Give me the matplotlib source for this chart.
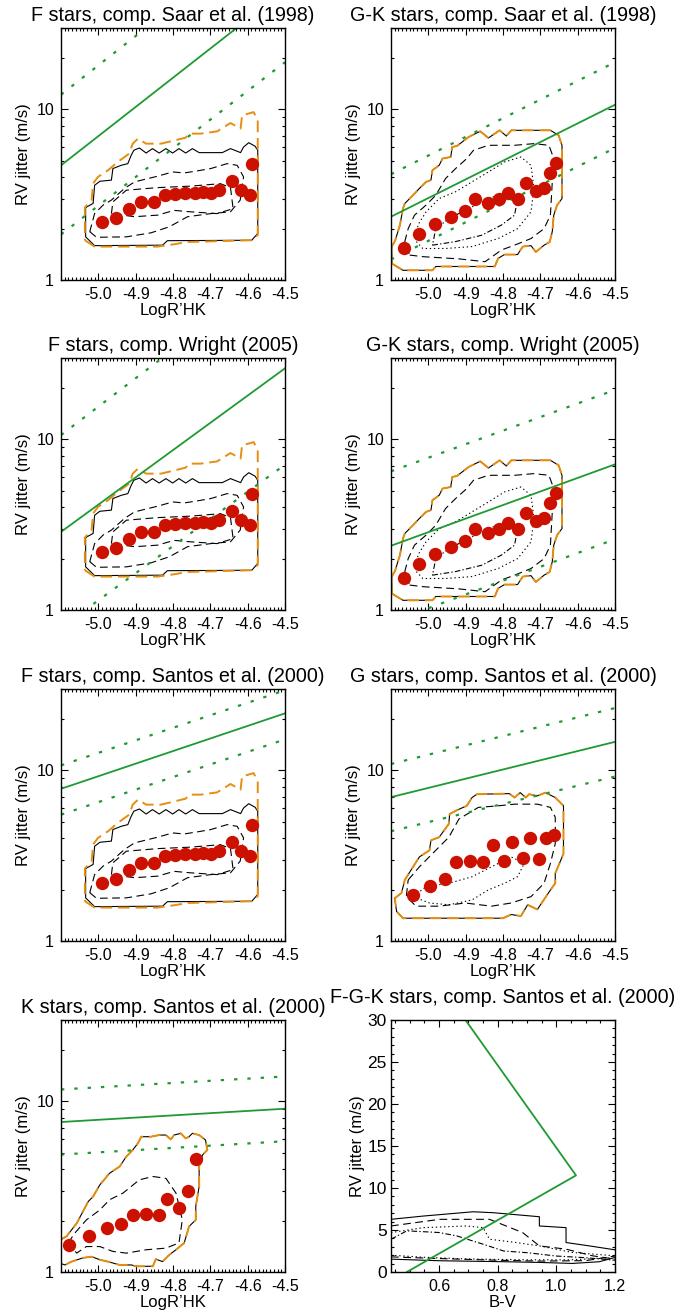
import matplotlib
matplotlib.use('Agg')
import matplotlib.pyplot as plt
from matplotlib.ticker import MultipleLocator, FixedLocator, NullFormatter

plt.rcParams['font.family'] = ['Liberation Sans', 'DejaVu Sans']
plt.rcParams['axes.unicode_minus'] = False

# ==========================================================
# DATA
# ==========================================================

titles = [
    'F stars, comp. Saar et al. (1998)',
    'G-K stars, comp. Saar et al. (1998)',
    'F stars, comp. Wright (2005)',
    'G-K stars, comp. Wright (2005)',
    'F stars, comp. Santos et al. (2000)',
    'G stars, comp. Santos et al. (2000)',
    'K stars, comp. Santos et al. (2000)',
    'F-G-K stars, comp. Santos et al. (2000)',
]

# binned jitter (red dots)
f_rhk = [-4.990, -4.952, -4.917, -4.885, -4.852, -4.822, -4.795, -4.768,
         -4.742, -4.720, -4.698, -4.677, -4.642, -4.617, -4.593, -4.588]
f_jit = [2.19, 2.32, 2.60, 2.87, 2.85, 3.14, 3.18, 3.24,
         3.24, 3.28, 3.24, 3.36, 3.79, 3.39, 3.17, 4.81]

gk_rhk = [-5.065, -5.026, -4.982, -4.940, -4.903, -4.875, -4.841, -4.811,
          -4.787, -4.759, -4.739, -4.712, -4.690, -4.675, -4.658]
gk_jit = [1.55, 1.85, 2.13, 2.35, 2.53, 2.98, 2.83, 2.98,
          3.24, 2.98, 3.71, 3.32, 3.48, 4.26, 4.88]

g_rhk = [-5.041, -4.996, -4.955, -4.925, -4.889, -4.854, -4.828,
         -4.797, -4.775, -4.746, -4.728, -4.703, -4.686, -4.664]
g_jit = [1.85, 2.10, 2.31, 2.91, 2.95, 2.89, 3.67,
         2.94, 3.80, 3.07, 4.03, 3.02, 4.03, 4.20]

k_rhk = [-5.079, -5.025, -4.978, -4.939, -4.908, -4.872,
         -4.837, -4.815, -4.784, -4.761, -4.739]
k_jit = [1.43, 1.63, 1.80, 1.90, 2.16, 2.20,
         2.16, 2.68, 2.36, 2.99, 4.60]

# comparison relations (green), values at logR'HK = -5.1 and -4.5
rel_x = [-5.1, -4.5]
saar_f_mid = [4.7, 50.0]
saar_f_hi = [12.2, 131.0]
saar_f_lo = [1.85, 18.9]
saar_gk_mid = [2.35, 10.65]
saar_gk_hi = [4.17, 18.9]
saar_gk_lo = [1.32, 5.94]
wright_f_mid = [2.87, 26.1]
wright_f_hi = [10.6, 106.0]
wright_f_lo = [0.79, 7.11]
wright_gk_mid = [2.38, 7.14]
wright_gk_hi = [6.5, 19.5]
wright_gk_lo = [0.85, 2.6]
santos_f_mid = [7.8, 21.6]
santos_f_hi = [10.7, 29.5]
santos_f_lo = [5.5, 15.2]
santos_g_mid = [6.97, 14.7]
santos_g_hi = [10.9, 23.2]
santos_g_lo = [4.4, 9.2]
santos_k_mid = [7.57, 9.06]
santos_k_hi = [11.75, 14.0]
santos_k_lo = [4.88, 5.84]

bv_rel_x = [0.49, 1.067, 0.69]
bv_rel_y = [0.0, 11.5, 30.0]

# density contours, (logR'HK, jitter) vertices
f_outer = [(-5.034, 2.66), (-5.014, 2.81), (-5.010, 3.59), (-4.996, 3.79), (-4.965, 3.85),
           (-4.961, 4.50), (-4.939, 4.70), (-4.921, 4.81), (-4.912, 5.38), (-4.905, 5.76),
           (-4.890, 5.94), (-4.872, 5.55), (-4.855, 5.89), (-4.837, 5.55), (-4.819, 5.89),
           (-4.801, 5.55), (-4.784, 5.89), (-4.766, 5.55), (-4.748, 5.89), (-4.730, 5.58),
           (-4.668, 5.58), (-4.646, 5.89), (-4.619, 5.58), (-4.611, 6.02), (-4.597, 6.38),
           (-4.580, 6.08), (-4.573, 5.76), (-4.573, 1.875), (-4.589, 1.71), (-4.815, 1.70),
           (-4.828, 1.60), (-5.010, 1.59), (-5.034, 1.79), (-5.034, 2.66)]
f_orange = [(-5.036, 1.71), (-5.010, 1.57), (-4.841, 1.57), (-4.797, 1.62), (-4.761, 1.67),
            (-4.589, 1.71), (-4.573, 1.83), (-4.573, 8.62), (-4.584, 9.64), (-4.615, 9.22),
            (-4.619, 7.71), (-4.646, 8.32), (-4.682, 7.43), (-4.726, 7.21), (-4.757, 7.21),
            (-4.766, 6.83), (-4.806, 6.50), (-4.832, 6.30), (-4.872, 6.30), (-4.894, 6.73),
            (-4.908, 6.30), (-4.917, 5.51), (-4.948, 4.92), (-4.974, 4.40), (-5.001, 4.02),
            (-5.014, 3.68), (-5.018, 2.94), (-5.036, 2.66), (-5.036, 1.71)]
f_mid = [(-5.023, 1.92), (-5.005, 1.78), (-4.925, 1.79), (-4.859, 1.89), (-4.810, 2.05),
         (-4.761, 2.35), (-4.699, 2.45), (-4.646, 2.51), (-4.620, 2.94), (-4.611, 4.02),
         (-4.628, 4.70), (-4.655, 4.81), (-4.699, 4.50), (-4.735, 4.36), (-4.770, 4.24),
         (-4.801, 4.30), (-4.841, 4.06), (-4.903, 3.76), (-4.930, 3.44), (-4.965, 2.94),
         (-4.987, 2.75), (-5.010, 2.45), (-5.023, 1.92)]
f_inner = [(-4.965, 2.45), (-4.961, 2.87), (-4.925, 3.36), (-4.841, 3.48), (-4.753, 3.55),
           (-4.673, 3.67), (-4.646, 3.48), (-4.639, 2.62), (-4.682, 2.45), (-4.753, 2.51),
           (-4.797, 2.56), (-4.841, 2.40), (-4.903, 2.35), (-4.965, 2.45)]

gk_outer = [(-5.098, 1.25), (-5.068, 1.14), (-4.989, 1.14), (-4.980, 1.20), (-4.822, 1.20),
            (-4.813, 1.34), (-4.796, 1.41), (-4.761, 1.41), (-4.747, 1.57), (-4.725, 1.59),
            (-4.712, 1.46), (-4.690, 1.60), (-4.675, 1.67), (-4.668, 1.92), (-4.664, 2.40),
            (-4.655, 2.75), (-4.642, 3.00), (-4.642, 6.16), (-4.651, 7.05), (-4.673, 7.54),
            (-4.778, 7.54), (-4.791, 6.98), (-4.809, 7.54), (-4.839, 6.80), (-4.861, 7.44),
            (-4.883, 7.05), (-4.892, 6.89), (-4.923, 6.11), (-4.936, 6.02), (-4.940, 5.26),
            (-4.962, 5.15), (-4.971, 4.70), (-4.989, 4.40), (-4.993, 3.85), (-5.006, 3.76),
            (-5.024, 3.44), (-5.041, 3.14), (-5.063, 2.81), (-5.068, 2.62), (-5.076, 2.10),
            (-5.089, 1.70), (-5.098, 1.57), (-5.098, 1.25)]
gk_c2 = [(-5.050, 1.40), (-5.015, 1.37), (-4.918, 1.33), (-4.848, 1.28), (-4.804, 1.50),
         (-4.769, 1.60), (-4.725, 1.75), (-4.690, 2.00), (-4.673, 2.40), (-4.668, 3.76),
         (-4.664, 5.15), (-4.677, 6.16), (-4.717, 6.30), (-4.769, 6.16), (-4.839, 6.16),
         (-4.879, 5.76), (-4.897, 5.15), (-4.927, 4.50), (-4.954, 3.93), (-4.980, 3.14),
         (-5.006, 2.75), (-5.037, 2.40), (-5.054, 2.00), (-5.063, 1.68), (-5.050, 1.40)]
gk_c3 = [(-5.032, 1.68), (-5.015, 1.53), (-4.954, 1.53), (-4.883, 1.57), (-4.813, 1.75),
         (-4.761, 2.00), (-4.725, 2.51), (-4.717, 3.44), (-4.725, 4.70), (-4.752, 5.26),
         (-4.796, 4.92), (-4.839, 4.30), (-4.883, 3.76), (-4.927, 3.29), (-4.971, 3.00),
         (-5.006, 2.51), (-5.028, 2.10), (-5.032, 1.68)]
gk_c4 = [(-4.989, 1.60), (-4.927, 1.68), (-4.857, 1.83), (-4.804, 2.10), (-4.769, 2.40),
         (-4.761, 3.00), (-4.787, 3.29), (-4.839, 3.00), (-4.892, 2.62), (-4.945, 2.29),
         (-4.980, 2.00), (-4.989, 1.60)]

g_outer = [(-5.090, 1.78), (-5.072, 1.91), (-5.063, 2.28), (-5.041, 2.72), (-5.024, 3.11),
           (-4.997, 3.40), (-4.993, 3.89), (-4.971, 4.06), (-4.945, 4.86), (-4.943, 5.55),
           (-4.923, 5.85), (-4.897, 6.20), (-4.883, 6.93), (-4.870, 7.25), (-4.783, 7.31),
           (-4.769, 6.93), (-4.754, 7.41), (-4.739, 6.93), (-4.730, 7.25), (-4.708, 7.09),
           (-4.686, 7.41), (-4.660, 6.93), (-4.638, 6.20), (-4.638, 3.25), (-4.660, 2.49),
           (-4.660, 2.18), (-4.673, 1.99), (-4.708, 1.53), (-4.734, 1.63), (-4.752, 1.40),
           (-4.778, 1.43), (-4.800, 1.36), (-5.068, 1.36), (-5.085, 1.49), (-5.090, 1.78)]
g_c2 = [(-5.054, 2.28), (-5.024, 2.72), (-4.989, 3.25), (-4.945, 4.06), (-4.918, 5.19),
        (-4.866, 6.07), (-4.813, 6.20), (-4.769, 6.34), (-4.708, 6.34), (-4.673, 6.07),
        (-4.660, 5.31), (-4.660, 3.72), (-4.673, 2.85), (-4.690, 2.18), (-4.725, 1.82),
        (-4.778, 1.67), (-4.831, 1.60), (-4.901, 1.67), (-4.971, 1.60), (-5.033, 1.60),
        (-5.059, 1.82), (-5.054, 2.28)]
g_c3 = [(-5.041, 1.82), (-4.997, 1.67), (-4.945, 1.63), (-4.883, 1.74), (-4.840, 1.99),
        (-4.796, 2.18), (-4.761, 2.38), (-4.743, 2.85), (-4.778, 3.11), (-4.831, 2.72),
        (-4.883, 2.38), (-4.945, 2.18), (-5.006, 2.08), (-5.041, 1.82)]

k_outer = [(-5.100, 1.55), (-5.085, 1.62), (-5.058, 1.93), (-5.027, 2.59), (-5.014, 2.77),
           (-4.996, 3.24), (-4.970, 3.79), (-4.943, 4.15), (-4.925, 4.75), (-4.908, 5.19),
           (-4.894, 5.68), (-4.885, 6.21), (-4.859, 6.21), (-4.837, 6.35), (-4.819, 6.35),
           (-4.806, 5.99), (-4.797, 6.35), (-4.779, 6.50), (-4.766, 6.07), (-4.757, 6.21),
           (-4.748, 6.50), (-4.730, 6.35), (-4.713, 5.94), (-4.708, 5.19), (-4.721, 4.85),
           (-4.730, 4.15), (-4.730, 3.17), (-4.739, 2.42), (-4.739, 2.02), (-4.757, 1.85),
           (-4.770, 1.48), (-4.792, 1.35), (-4.810, 1.26), (-4.828, 1.15), (-4.846, 1.19),
           (-4.854, 1.08), (-4.899, 1.08), (-4.912, 1.10), (-4.943, 1.10), (-4.974, 1.15),
           (-4.996, 1.18), (-5.018, 1.23), (-5.041, 1.21), (-5.072, 1.15), (-5.089, 1.10),
           (-5.100, 1.12)]
k_c2 = [(-5.081, 1.48), (-5.063, 1.69), (-5.032, 2.02), (-4.996, 2.31), (-4.970, 2.65),
        (-4.934, 2.90), (-4.890, 3.47), (-4.854, 3.63), (-4.819, 3.54), (-4.792, 2.90),
        (-4.775, 2.02), (-4.784, 1.48), (-4.819, 1.38), (-4.872, 1.35), (-4.925, 1.29),
        (-4.961, 1.32), (-4.996, 1.41), (-5.032, 1.41), (-5.058, 1.29), (-5.081, 1.48)]

# F-G-K stars vs B-V, (B-V, jitter) vertices
bv_solid_top = [(0.436, 6.27), (0.546, 6.66), (0.716, 7.17), (0.784, 7.06), (0.942, 6.58),
                (0.942, 5.48), (1.033, 5.28), (1.033, 3.51), (1.112, 3.11), (1.200, 2.64)]
bv_solid_bot = [(0.436, 1.53), (0.602, 1.34), (0.829, 1.22), (0.942, 1.14), (1.055, 1.02),
                (1.146, 1.22), (1.200, 1.73)]
bv_dash_top = [(0.436, 5.48), (0.602, 6.27), (0.772, 6.27), (0.885, 4.69), (0.942, 3.11),
               (1.033, 2.72), (1.123, 1.93), (1.200, 1.53)]
bv_dot_top = [(0.436, 4.69), (0.546, 5.28), (0.693, 5.48), (0.750, 5.28), (0.772, 3.90),
              (0.863, 3.51), (0.942, 3.11), (1.055, 2.32), (1.200, 1.93)]
bv_dashdot_top = [(0.436, 3.90), (0.490, 4.90), (0.600, 4.70), (0.660, 4.30), (0.760, 3.20),
                  (0.820, 2.50), (0.900, 2.30), (1.000, 1.90), (1.100, 1.70), (1.200, 1.40)]
bv_dash_bot = [(0.436, 1.80), (0.602, 1.60), (0.800, 1.40), (0.942, 1.30), (1.100, 1.35),
               (1.200, 1.90)]
bv_dot_bot = [(0.436, 2.00), (0.550, 1.75), (0.700, 1.55), (0.900, 1.45), (1.050, 1.45),
              (1.180, 1.70)]

# ==========================================================
# STYLES
# ==========================================================

GREEN = '#1f9a33'
ORANGE = '#e58e10'
RED = '#cc1100'
LS_DASH = (0, (7, 4))
LS_DOT = (0, (1.2, 2.5))
LS_DASHDOT = (0, (5, 2, 1.2, 2))
LS_ORANGE = (0, (6, 3))
LS_GREEN_DOT = (0, (1.5, 4.5))

COL_LEFT = [61 / 699, 391 / 699]
ROW_BOTTOM = [1 - 280 / 1313, 1 - 610 / 1313, 1 - 941 / 1313, 1 - 1272 / 1313]
AX_W = 224 / 699
AX_H = 252 / 1313


def unzip(pts):
    return [p[0] for p in pts], [p[1] for p in pts]


def style_axes(ax):
    ax.tick_params(which='both', direction='in', top=True, right=True,
                   labelsize=11.5, width=0.8, pad=5)
    ax.tick_params(which='major', length=5)
    ax.tick_params(which='minor', length=2.5)
    for s in ax.spines.values():
        s.set_linewidth(1.0)


def rhk_panel(ax, title, contours, orange, rel_mid, rel_hi, rel_lo, px, py):
    for pts, ls in contours:
        cx, cy = unzip(pts)
        ax.plot(cx, cy, color='black', lw=0.8, linestyle=ls)
    ox, oy = unzip(orange)
    ax.plot(ox, oy, color=ORANGE, lw=1.4, linestyle=LS_ORANGE)
    ax.plot(rel_x, rel_mid, color=GREEN, lw=1.3)
    ax.plot(rel_x, rel_hi, color=GREEN, lw=1.6, linestyle=LS_GREEN_DOT)
    ax.plot(rel_x, rel_lo, color=GREEN, lw=1.6, linestyle=LS_GREEN_DOT)
    ax.plot(px, py, 'o', color=RED, markersize=9.6, markeredgewidth=0)
    ax.set_yscale('log')
    ax.set_xlim(-5.1, -4.5)
    ax.set_ylim(1, 30)
    ax.xaxis.set_major_locator(FixedLocator([-5.0, -4.9, -4.8, -4.7, -4.6, -4.5]))
    ax.set_xticklabels(['-5.0', '-4.9', '-4.8', '-4.7', '-4.6', '-4.5'])
    ax.xaxis.set_minor_locator(MultipleLocator(0.01))
    ax.yaxis.set_major_locator(FixedLocator([1, 10]))
    ax.set_yticklabels(['1', '10'])
    ax.yaxis.set_minor_locator(FixedLocator([2, 3, 4, 5, 6, 7, 8, 9, 20, 30]))
    ax.yaxis.set_minor_formatter(NullFormatter())
    ax.set_xlabel("LogR\u2019HK", fontsize=12, labelpad=1)
    ax.set_ylabel('RV jitter (m/s)', fontsize=12, labelpad=4)
    ax.set_title(title, fontsize=14.2, pad=5)
    style_axes(ax)


fig = plt.figure(figsize=(6.99, 13.13), dpi=100)

axes = []
for r in range(4):
    for c in range(2):
        axes.append(fig.add_axes([COL_LEFT[c], ROW_BOTTOM[r], AX_W, AX_H]))

f_contours = [(f_outer, '-'), (f_mid, LS_DASH), (f_inner, LS_DASH)]
gk_contours = [(gk_outer, '-'), (gk_c2, LS_DASH), (gk_c3, LS_DOT), (gk_c4, LS_DASHDOT)]
g_contours = [(g_outer, '-'), (g_c2, LS_DASH), (g_c3, LS_DOT)]
k_contours = [(k_outer, '-'), (k_c2, LS_DASH)]

rhk_panel(axes[0], titles[0], f_contours, f_orange, saar_f_mid, saar_f_hi, saar_f_lo, f_rhk, f_jit)
rhk_panel(axes[1], titles[1], gk_contours, gk_outer, saar_gk_mid, saar_gk_hi, saar_gk_lo, gk_rhk, gk_jit)
rhk_panel(axes[2], titles[2], f_contours, f_orange, wright_f_mid, wright_f_hi, wright_f_lo, f_rhk, f_jit)
rhk_panel(axes[3], titles[3], gk_contours, gk_outer, wright_gk_mid, wright_gk_hi, wright_gk_lo, gk_rhk, gk_jit)
rhk_panel(axes[4], titles[4], f_contours, f_orange, santos_f_mid, santos_f_hi, santos_f_lo, f_rhk, f_jit)
rhk_panel(axes[5], titles[5], g_contours, g_outer, santos_g_mid, santos_g_hi, santos_g_lo, g_rhk, g_jit)
rhk_panel(axes[6], titles[6], k_contours, k_outer, santos_k_mid, santos_k_hi, santos_k_lo, k_rhk, k_jit)

# ==========================================================
# B-V PANEL
# ==========================================================

ax = axes[7]
for pts, ls in [(bv_solid_top, '-'), (bv_solid_bot, '-'), (bv_dash_top, LS_DASH),
                (bv_dot_top, LS_DOT), (bv_dashdot_top, LS_DASHDOT),
                (bv_dash_bot, LS_DASH), (bv_dot_bot, LS_DOT)]:
    cx, cy = unzip(pts)
    ax.plot(cx, cy, color='black', lw=0.8, linestyle=ls)
ax.plot(bv_rel_x, bv_rel_y, color=GREEN, lw=1.3)
ax.set_xlim(0.436, 1.2)
ax.set_ylim(0, 30)
ax.xaxis.set_major_locator(FixedLocator([0.6, 0.8, 1.0, 1.2]))
ax.set_xticklabels(['0.6', '0.8', '1.0', '1.2'])
ax.xaxis.set_minor_locator(MultipleLocator(0.05))
ax.yaxis.set_major_locator(MultipleLocator(5))
ax.yaxis.set_minor_locator(MultipleLocator(1))
ax.set_xlabel('B-V', fontsize=12, labelpad=1)
ax.set_ylabel('RV jitter (m/s)', fontsize=12, labelpad=2)
ax.set_title(titles[7], fontsize=14.2, pad=12)
style_axes(ax)
ax.tick_params(axis='y', labelsize=12.5, pad=3)

fig.savefig('out.png', dpi=100)
